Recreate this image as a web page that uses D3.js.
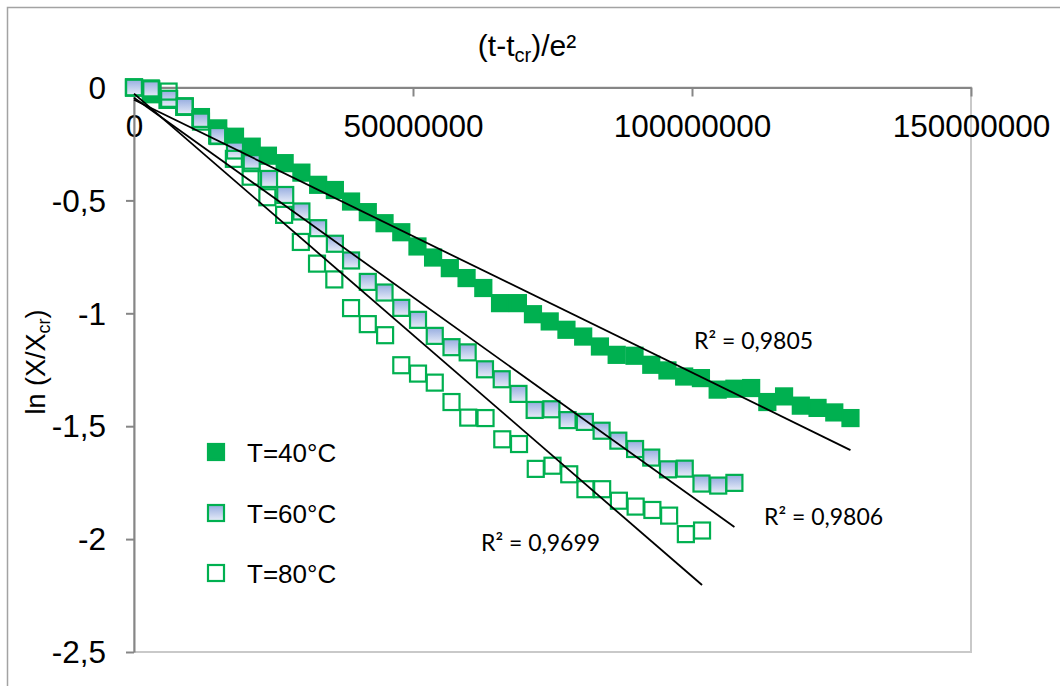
<!DOCTYPE html>
<html>
<head>
<meta charset="utf-8">
<script src="https://cdn.jsdelivr.net/npm/d3@7"></script>
<style>
  html, body { margin: 0; padding: 0; background: #fff; }
  svg { display: block; }
</style>
</head>
<body>
<script>
// ---------------- data ----------------
const x40 = [0, 3.0e6, 6.0e6, 9.0e6, 12.0e6, 15.1e6, 18.1e6, 21.1e6, 24.0e6, 27.0e6, 30.0e6,
  33.0e6, 36.0e6, 38.9e6, 41.9e6, 44.9e6, 47.9e6, 50.8e6, 53.6e6, 56.6e6, 59.6e6, 62.6e6,
  65.6e6, 68.8e6, 71.5e6, 74.5e6, 77.5e6, 80.5e6, 83.5e6, 86.5e6, 89.7e6, 92.7e6, 95.6e6,
  98.6e6, 101.6e6, 104.6e6, 107.6e6, 110.6e6, 113.5e6, 116.5e6, 119.5e6, 122.5e6, 125.5e6, 128.4e6];
const y40 = [0, -0.030, -0.055, -0.086, -0.131, -0.181, -0.218, -0.262, -0.302, -0.335, -0.377,
  -0.431, -0.454, -0.505, -0.552, -0.601, -0.641, -0.704, -0.753, -0.800, -0.844, -0.888,
  -0.955, -0.955, -1.004, -1.036, -1.073, -1.103, -1.147, -1.184, -1.188, -1.228, -1.253,
  -1.280, -1.287, -1.338, -1.334, -1.331, -1.393, -1.368, -1.409, -1.419, -1.439, -1.464];

const x60 = [0, 3.1e6, 6.3e6, 9.1e6, 12.0e6, 15.1e6, 18.1e6, 21.1e6, 24.2e6, 27.1e6, 30.0e6,
  33.0e6, 36.0e6, 38.9e6, 41.9e6, 44.9e6, 47.9e6, 50.9e6, 53.9e6, 56.9e6, 59.8e6, 62.9e6,
  65.9e6, 68.9e6, 71.8e6, 74.8e6, 77.7e6, 80.8e6, 83.8e6, 86.8e6, 89.8e6, 92.7e6, 95.7e6,
  98.7e6, 101.7e6, 104.7e6, 107.6e6];
const y60 = [0, -0.008, -0.050, -0.085, -0.151, -0.215, -0.279, -0.335, -0.405, -0.476, -0.549,
  -0.623, -0.692, -0.766, -0.861, -0.908, -0.976, -1.029, -1.100, -1.150, -1.173, -1.248,
  -1.292, -1.357, -1.428, -1.425, -1.473, -1.481, -1.520, -1.564, -1.601, -1.639, -1.691,
  -1.688, -1.754, -1.763, -1.751];

const x80 = [0, 3.0e6, 6.2e6, 9.1e6, 11.9e6, 14.9e6, 17.9e6, 20.9e6, 23.9e6, 26.9e6, 29.9e6,
  32.8e6, 35.9e6, 38.9e6, 41.9e6, 45.0e6, 47.9e6, 50.9e6, 53.9e6, 56.9e6, 59.9e6, 63.0e6,
  66.0e6, 69.0e6, 72.0e6, 75.0e6, 78.0e6, 80.9e6, 83.9e6, 86.9e6, 89.9e6, 92.9e6, 95.9e6,
  98.9e6, 101.8e6];
const y80 = [0, -0.004, -0.018, -0.083, -0.139, -0.213, -0.316, -0.395, -0.486, -0.564, -0.684,
  -0.780, -0.850, -0.977, -1.048, -1.097, -1.230, -1.267, -1.307, -1.393, -1.462, -1.464,
  -1.558, -1.579, -1.689, -1.675, -1.713, -1.779, -1.779, -1.830, -1.856, -1.871, -1.896,
  -1.978, -1.962];

const seriesNames = ["T=40°C", "T=60°C", "T=80°C"];
const trendSlopes = [-1.2085e-8, -1.767e-8, -2.138e-8];
const trendIntercepts = [-0.054, -0.045, -0.027];
const r2Labels = ["R² = 0,9805", "R² = 0,9806", "R² = 0,9699"];

const xTicks = [0, 50000000, 100000000, 150000000];
const yTicks = [0, -0.5, -1, -1.5, -2, -2.5];
const yTickLabels = ["0", "-0,5", "-1", "-1,5", "-2", "-2,5"];

// ---------------- layout ----------------
const W = 1060, H = 686;
const pLeft = 134, pRight = 971, pTop = 87.5, pBottom = 652;
const GREEN = "#00B050";
const AXIS = "#868686";
const SANS = "'Liberation Sans', Arial, sans-serif";

const svg = d3.select("body").append("svg").attr("width", W).attr("height", H);

const defs = svg.append("defs");
const grad = defs.append("linearGradient").attr("id", "blueGrad")
  .attr("x1", 0).attr("y1", 0).attr("x2", 0).attr("y2", 1);
grad.append("stop").attr("offset", "0%").attr("stop-color", "#97ADE0");
grad.append("stop").attr("offset", "100%").attr("stop-color", "#E8EDF8");

// chart border
svg.append("rect").attr("x", 7.5).attr("y", 7.5).attr("width", 1080).attr("height", 700)
  .attr("fill", "#fff").attr("stroke", "#a3a3a3").attr("stroke-width", 1.5);

const x = d3.scaleLinear().domain([0, 150000000]).range([pLeft, pRight]);
const y = d3.scaleLinear().domain([0, -2.5]).range([pTop, pBottom]);

// plot-area border
svg.append("rect").attr("x", pLeft).attr("y", pTop)
  .attr("width", pRight - pLeft).attr("height", pBottom - pTop)
  .attr("fill", "none").attr("stroke", "#c9c9c9").attr("stroke-width", 2);

// axes
const xAxis = d3.axisBottom(x).tickValues(xTicks).tickFormat(d => String(d))
  .tickSizeInner(9).tickSizeOuter(0).tickPadding(18);
const gx = svg.append("g").attr("transform", `translate(0,${y(0)})`).call(xAxis);

const yAxis = d3.axisLeft(y).tickValues(yTicks).tickFormat((d, i) => yTickLabels[i])
  .tickSizeInner(8).tickSizeOuter(0).tickPadding(20);
const gy = svg.append("g").attr("transform", `translate(${x(0)},0)`).call(yAxis);

[gx, gy].forEach(g => {
  g.select(".domain").attr("stroke", AXIS).attr("stroke-width", 2);
  g.selectAll(".tick line").attr("stroke", AXIS).attr("stroke-width", 2);
  g.selectAll(".tick text").attr("fill", "#000").attr("font-family", SANS).attr("font-size", 31.5);
});
gy.selectAll(".tick text").attr("dy", "0.34em");

// axis titles
const title = svg.append("text").attr("x", 527).attr("y", 56).attr("text-anchor", "middle")
  .attr("font-family", SANS).attr("font-size", 30).attr("fill", "#000");
title.append("tspan").text("(t-t");
title.append("tspan").text("cr").attr("font-size", 20).attr("baseline-shift", "-6");
title.append("tspan").text(")/e²");

const ytitle = svg.append("text").attr("transform", "translate(45,362) rotate(-90)")
  .attr("text-anchor", "middle").attr("font-family", SANS).attr("font-size", 27).attr("fill", "#000");
ytitle.append("tspan").text("ln (X/X");
ytitle.append("tspan").text("cr").attr("font-size", 18).attr("baseline-shift", "-5");
ytitle.append("tspan").text(")");

// markers
const MS = 16;
function squares(xs, ys, fill, stroke) {
  svg.append("g").selectAll("rect").data(xs.map((d, i) => [d, ys[i]])).join("rect")
    .attr("x", d => x(d[0]) - MS / 2).attr("y", d => y(d[1]) - MS / 2)
    .attr("width", MS).attr("height", MS)
    .attr("fill", fill).attr("stroke", stroke).attr("stroke-width", 2.2);
}
squares(x40, y40, GREEN, GREEN);
squares(x60, y60, "url(#blueGrad)", GREEN);
squares(x80, y80, "none", GREEN);

// trend lines
const maxX = [d3.max(x40), d3.max(x60), d3.max(x80)];
trendSlopes.forEach((m, i) => {
  svg.append("line")
    .attr("x1", x(0)).attr("y1", y(trendIntercepts[i]))
    .attr("x2", x(maxX[i])).attr("y2", y(m * maxX[i] + trendIntercepts[i]))
    .attr("stroke", "#000").attr("stroke-width", 1.8);
});

// R² labels
const r2Pos = [[694, 349], [764, 525], [481, 551]];
r2Labels.forEach((t, i) => {
  svg.append("text").attr("x", r2Pos[i][0]).attr("y", r2Pos[i][1])
    .attr("font-family", "Lato, 'Open Sans', sans-serif").attr("font-size", 23)
    .attr("fill", "#000").text(t);
});

// legend
const legY = [452, 513, 573];
const legFill = [GREEN, "url(#blueGrad)", "#fff"];
seriesNames.forEach((name, i) => {
  svg.append("rect").attr("x", 216 - MS / 2).attr("y", legY[i] - MS / 2)
    .attr("width", MS).attr("height", MS)
    .attr("fill", legFill[i]).attr("stroke", GREEN).attr("stroke-width", 2.2);
  svg.append("text").attr("x", 247).attr("y", legY[i] + 9.5)
    .attr("font-family", SANS).attr("font-size", 26).attr("fill", "#000").text(name);
});
</script>
</body>
</html>
